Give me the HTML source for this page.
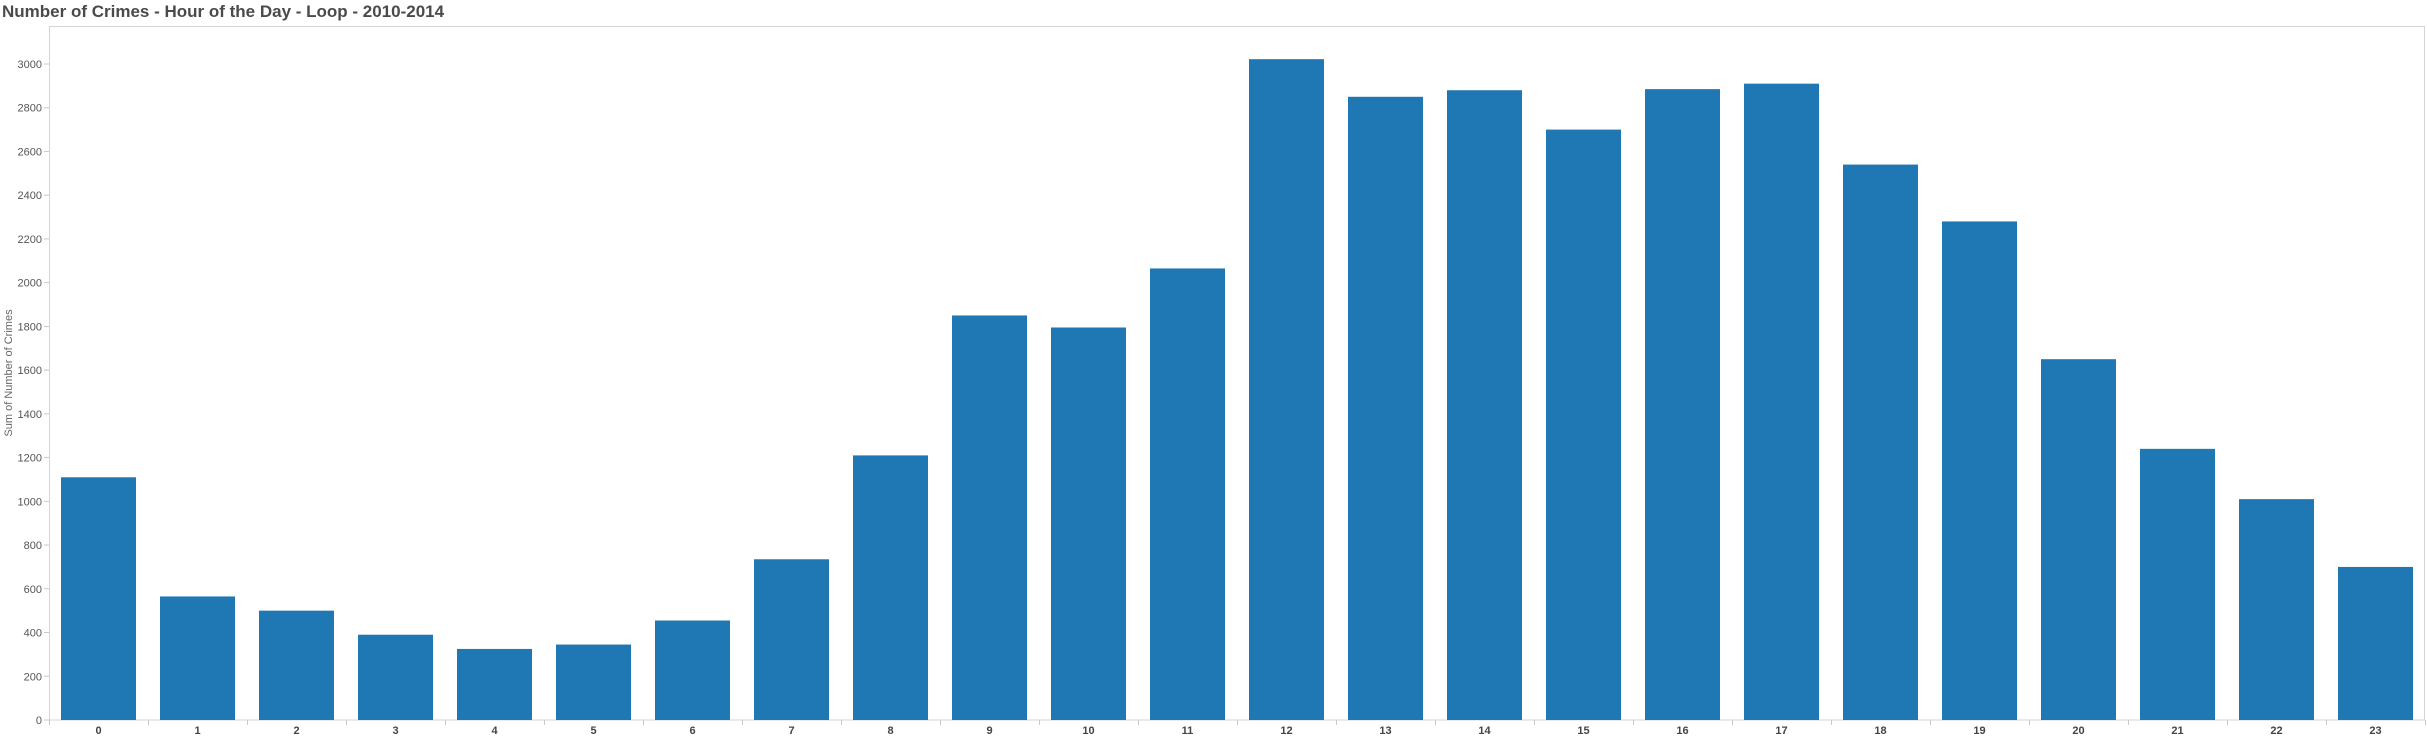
<!DOCTYPE html>
<html><head><meta charset="utf-8"><style>
html,body{margin:0;padding:0;background:#fff;width:2427px;height:741px;overflow:hidden}
svg{display:block;font-family:"Liberation Sans",sans-serif}
</style></head><body>
<svg id="chart" width="2427" height="741">
<text x="2" y="17" font-size="17" font-weight="bold" fill="#4a4a4a">Number of Crimes - Hour of the Day - Loop - 2010-2014</text>
<rect x="49.5" y="26.5" width="2375" height="693.5" fill="none" stroke="#d4d4d4"/>
<text transform="translate(12,373) rotate(-90)" text-anchor="middle" font-size="11" fill="#666">Sum of Number of Crimes</text>
<g id="yaxis"></g>
<g id="bars"></g>
<g id="xaxis"></g>
</svg>
<script>
const hours = ["0","1","2","3","4","5","6","7","8","9","10","11","12","13","14","15","16","17","18","19","20","21","22","23"];
const crimes = [1110,565,500,390,325,345,455,735,1210,1850,1795,2065,3022,2850,2880,2700,2885,2910,2540,2280,1650,1240,1010,700];
const yTicks = [0,200,400,600,800,1000,1200,1400,1600,1800,2000,2200,2400,2600,2800,3000];
const NS="http://www.w3.org/2000/svg";
const x0=49, band=99, barW=75, barOff=12;
function y(v){return 720 - v*0.21867;}
function xBand(i){return x0 + i*band;}
function mk(tag,attrs,parent){const e=document.createElementNS(NS,tag);for(const k in attrs)e.setAttribute(k,attrs[k]);parent.appendChild(e);return e;}
const ya=document.getElementById('yaxis'), bg=document.getElementById('bars'), xa=document.getElementById('xaxis');
yTicks.forEach(t=>{
  const l=mk('line',{x1:44,x2:49,y1:y(t),y2:y(t),stroke:'#c8c8c8'},ya);
  
  
  const tx=mk('text',{x:42,y:y(t)+4,'text-anchor':'end','font-size':11,fill:'#555'},ya);
  tx.textContent=t;
  
  
});
crimes.forEach((v,i)=>{
  const r=mk('rect',{x:xBand(i)+barOff,y:y(v),width:barW,height:720-y(v),fill:'#1f77b4'},bg);
  
  
});
for(let i=0;i<=hours.length;i++){
  const l=mk('line',{x1:xBand(i)+0.5,x2:xBand(i)+0.5,y1:720,y2:725,stroke:'#c8c8c8'},xa);
  
  
}
hours.forEach((h,i)=>{
  const tx=mk('text',{x:xBand(i)+band/2,y:734,'text-anchor':'middle','font-size':11,'font-weight':'bold',fill:'#444'},xa);
  tx.textContent=h;
  
  
});
</script>
</body></html>
